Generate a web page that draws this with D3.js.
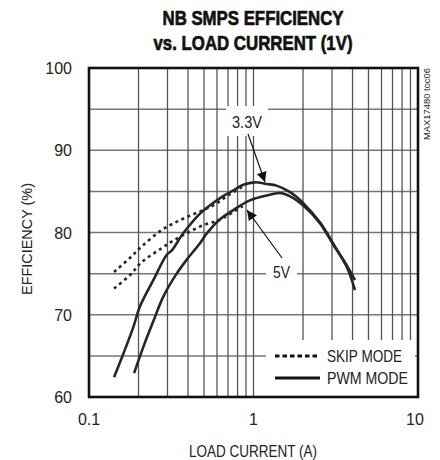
<!DOCTYPE html>
<html><head><meta charset="utf-8">
<script src="https://cdn.jsdelivr.net/npm/d3@7"></script>
<style>
html,body{margin:0;padding:0;background:#fff;}
svg text{font-family:"Liberation Sans Narrow","Arial Narrow","Liberation Sans",sans-serif;fill:#222;}
</style></head>
<body><svg id="c" width="440" height="460"></svg>
<script>
// ---- data ----
const pwm33X = [0.142,0.162,0.186,0.204,0.246,0.297,0.318,0.374,0.473,0.56,0.65,0.75,0.867,1.02,1.2,1.38,1.67,2.0,2.54,3.06,3.69,4.14];
const pwm33Y = [62.4,65.3,68.5,71.0,74.2,77.3,77.8,79.9,82.3,83.5,84.4,85.1,85.8,86.1,85.9,85.7,84.9,83.6,81.2,78.6,75.8,73.0];
const pwm5X  = [0.188,0.214,0.246,0.283,0.341,0.40,0.473,0.52,0.625,0.75,0.95,1.2,1.45,1.67,2.0,2.54,3.06,3.69,4.14];
const pwm5Y  = [62.9,66.1,69.2,72.2,75.0,76.9,78.7,79.9,81.6,82.7,83.9,84.5,84.8,84.4,83.3,81.1,78.5,76.0,74.2];
const skip33X = [0.142,0.177,0.209,0.277,0.357,0.452,0.57,0.70,0.86];
const skip33Y = [75.2,76.9,78.3,80.3,81.5,82.4,83.3,84.5,85.6];
const skip5X  = [0.142,0.177,0.209,0.277,0.318,0.392,0.496,0.597,0.70,0.86];
const skip5Y  = [73.2,74.8,76.4,78.1,78.9,79.9,80.9,81.4,82.1,83.2];
const xTicks = [0.1,1,10];
const xTickLabels = ["0.1","1","10"];
const yTicks = [60,70,80,90,100];
const yGrid = [65,70,75,80,85,90,95];
const xGrid = [0.2,0.3,0.4,0.5,0.6,0.7,0.8,0.9,1,2,3,4,5,6,7,8,9];
const titleLines = ["NB SMPS EFFICIENCY","vs. LOAD CURRENT (1V)"];
const legendItems = [{label:"SKIP MODE",dash:true,w:75},{label:"PWM MODE",dash:false,w:81}];

// ---- layout ----
const L=89,R=418,T=68,B=397;
const svg=d3.select("#c");
const x=d3.scaleLog().domain([0.1,10]).range([L,R]);
const y=d3.scaleLinear().domain([60,100]).range([B,T]);

// title
svg.selectAll("text.title").data(titleLines).join("text").attr("class","title")
  .attr("x",253).attr("y",(d,i)=>25+i*24.5).attr("text-anchor","middle")
  .style("font-size","21px").style("font-weight","bold").style("fill","#111")
  .style("stroke","#111").style("stroke-width","0.7px")
  .attr("textLength",(d,i)=>i?199:181).attr("lengthAdjust","spacingAndGlyphs")
  .text(d=>d);

// grid
const g=svg.append("g");
g.selectAll("line.h").data(yGrid).join("line")
  .attr("x1",L).attr("x2",R).attr("y1",d=>y(d)).attr("y2",d=>y(d))
  .attr("stroke","#777").attr("stroke-width",1.5);
g.selectAll("line.v").data(xGrid).join("line")
  .attr("y1",T).attr("y2",B).attr("x1",d=>x(d)).attr("x2",d=>x(d))
  .attr("stroke","#555").attr("stroke-width",1.3);

// label boxes (white, hide grid)
g.append("rect").attr("x",226).attr("y",106).attr("width",42).attr("height",30).attr("fill","#fff");
g.append("rect").attr("x",266).attr("y",261).attr("width",31).attr("height",25).attr("fill","#fff");
g.append("rect").attr("x",266).attr("y",340).attr("width",149).attr("height",57).attr("fill","#fff");

// curves
const line=d3.line().x(d=>x(d[0])).y(d=>y(d[1])).curve(d3.curveCatmullRom.alpha(0.5));
function curve(xs,ys,dash){
  svg.append("path").datum(xs.map((v,i)=>[v,ys[i]])).attr("d",line)
    .attr("fill","none").attr("stroke","#262626").attr("stroke-width",2.6)
    .attr("stroke-dasharray",dash?"3,3.6":null).attr("stroke-linecap","butt");
}
curve(skip33X,skip33Y,true);
curve(skip5X,skip5Y,true);
curve(pwm33X,pwm33Y,false);
curve(pwm5X,pwm5Y,false);

// border
svg.append("rect").attr("x",L).attr("y",T).attr("width",R-L).attr("height",B-T)
  .attr("fill","none").attr("stroke","#111").attr("stroke-width",2.6);

// axes labels
svg.selectAll("text.yt").data(yTicks).join("text").attr("class","yt")
  .attr("x",72).attr("y",d=>y(d)+6).attr("text-anchor","end")
  .style("font-size","16px").text(d=>d);
svg.selectAll("text.xt").data(xTicks).join("text").attr("class","xt")
  .attr("x",(d,i)=>x(d)-(i==2?3:0)).attr("y",425).attr("text-anchor","middle")
  .style("font-size","16px").text((d,i)=>xTickLabels[i]);
svg.append("text").attr("x",253).attr("y",457).attr("text-anchor","middle")
  .style("font-size","17px").attr("textLength",128).attr("lengthAdjust","spacingAndGlyphs")
  .text("LOAD CURRENT (A)");
svg.append("text").attr("transform","translate(32,239) rotate(-90)").attr("text-anchor","middle")
  .style("font-size","15px").attr("textLength",112).attr("lengthAdjust","spacingAndGlyphs")
  .text("EFFICIENCY (%)");
svg.append("text").attr("transform","translate(430,104) rotate(-90)").attr("text-anchor","middle")
  .style("font-size","9.5px").attr("textLength",72).attr("lengthAdjust","spacingAndGlyphs")
  .text("MAX17480 toc06");

// annotations
const defs=svg.append("defs");
defs.append("marker").attr("id","ah").attr("viewBox","0 0 10 10").attr("refX",10).attr("refY",5)
  .attr("markerWidth",14).attr("markerHeight",10).attr("markerUnits","userSpaceOnUse").attr("orient","auto")
  .append("path").attr("d","M0,0 L10,5 L0,10 Z").attr("fill","#111");
svg.append("line").attr("x1",248).attr("y1",134).attr("x2",265).attr("y2",182)
  .attr("stroke","#111").attr("stroke-width",1.2).attr("marker-end","url(#ah)");
svg.append("line").attr("x1",282).attr("y1",258).attr("x2",247).attr("y2",210)
  .attr("stroke","#111").attr("stroke-width",1.2).attr("marker-end","url(#ah)");
svg.append("text").attr("x",247).attr("y",128).attr("text-anchor","middle")
  .style("font-size","17px").attr("textLength",30).attr("lengthAdjust","spacingAndGlyphs").text("3.3V");
svg.append("text").attr("x",281.5).attr("y",278).attr("text-anchor","middle")
  .style("font-size","16px").attr("textLength",17).attr("lengthAdjust","spacingAndGlyphs").text("5V");

// legend
const lg=svg.selectAll("g.lg").data(legendItems).join("g").attr("class","lg")
  .attr("transform",(d,i)=>`translate(275,${356+i*22})`);
lg.append("line").attr("x1",0).attr("x2",45).attr("y1",0).attr("y2",0)
  .attr("stroke","#111").attr("stroke-width",2.8)
  .attr("stroke-dasharray",d=>d.dash?"4.5,3":null);
lg.append("text").attr("x",52).attr("y",6).style("font-size","17px")
  .attr("textLength",d=>d.w).attr("lengthAdjust","spacingAndGlyphs").text(d=>d.label);
</script></body></html>
